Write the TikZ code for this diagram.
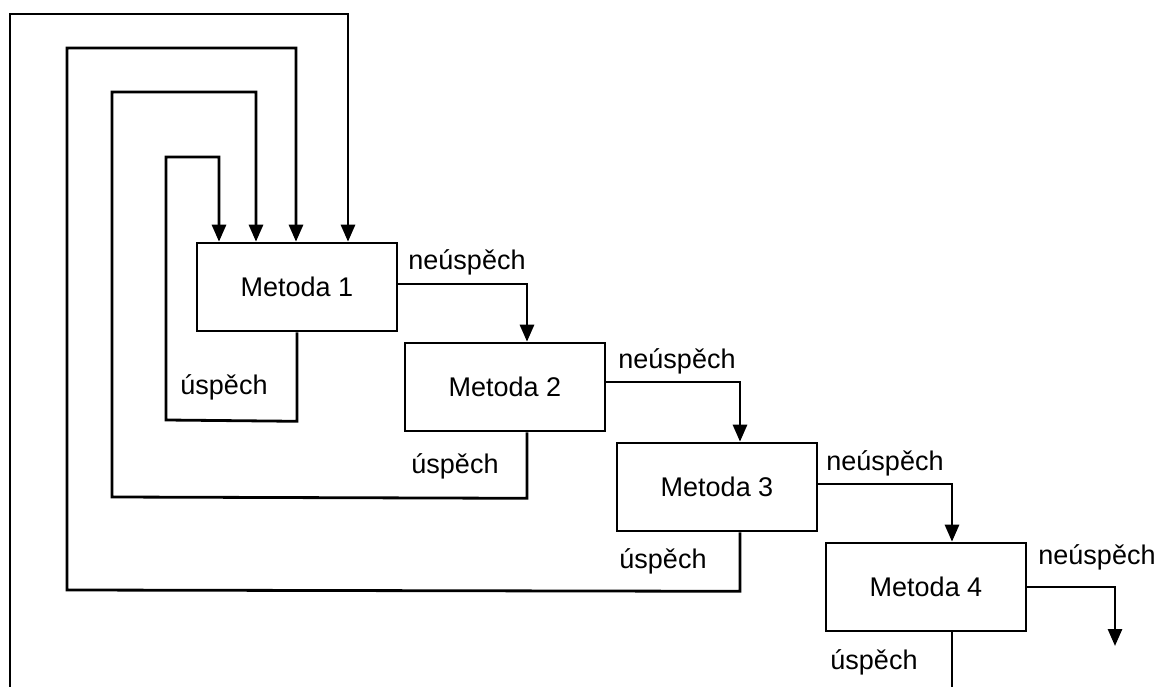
\documentclass[tikz,border=0pt]{standalone}
\usepackage{fontspec}
\setmainfont{Liberation Sans}
\usetikzlibrary{arrows.meta}
\begin{document}
\begin{tikzpicture}[x=1pt,y=-1pt,
  method/.style={draw,line width=2.6pt,minimum width=200pt,minimum height=88pt,
    inner sep=0pt,font=\fontsize{27}{32}\selectfont},
  lbl/.style={font=\fontsize{27}{32}\selectfont,inner sep=0pt},
  link/.style={line width=2.8pt},
  flow/.style={link,-{Triangle[width=14pt,length=17pt]}}]
\useasboundingbox (0,0) rectangle (1160,687);

% method boxes
\node[method] (m1) at (297,287) {Metoda 1};
\node[method] (m2) at (505,387) {Metoda 2};
\node[method] (m3) at (717,487) {Metoda 3};
\node[method] (m4) at (926,587) {Metoda 4};

% entry points on top of Metoda 1
\coordinate (e1) at (219,0 |- m1.north);
\coordinate (e2) at (256,0 |- m1.north);
\coordinate (e3) at (296,0 |- m1.north);
\coordinate (e4) at (348,0 |- m1.north);

% success returns
\draw[flow] (m1.south) -- ++(0,89) -- (166,420) -- (166,157) -- (219,157) -- (e1);
\draw[flow] ([xshift=22pt]m2.south) -- ++(0,66) -- (112,497) -- (112,92) -- (256,92) -- (e2);
\draw[flow] ([xshift=23pt]m3.south) -- ++(0,59) -- (67,590) -- (67,48) -- (296,48) -- (e3);
\draw[link] ([xshift=26pt]m4.south) -- (952,690);
\draw[flow] (10,690) -- (10,14) -- (348,14) -- (e4);

% failure hand-offs
\coordinate (f1) at (527,0 |- m2.north);
\coordinate (f2) at (740,0 |- m3.north);
\coordinate (f3) at (952,0 |- m4.north);
\coordinate (f4) at (1115,646);
\draw[flow] ([yshift=3pt]m1.east) -| (f1);
\draw[flow] ([yshift=5pt]m2.east) -| (f2);
\draw[flow] ([yshift=3pt]m3.east) -| (f3);
\draw[flow] (m4.east) -| (f4);

% labels
\node[lbl] (n1) at (467,262) {neúspěch};
\node[lbl] (n2) at (677,361) {neúspěch};
\node[lbl] (n3) at (885,463) {neúspěch};
\node[lbl] (n4) at (1097,557) {neúspěch};
\node[lbl] (u1) at (224,387) {úspěch};
\node[lbl] (u2) at (455,466) {úspěch};
\node[lbl] (u3) at (663,561) {úspěch};
\node[lbl] (u4) at (874,662) {úspěch};
\end{tikzpicture}
\end{document}
